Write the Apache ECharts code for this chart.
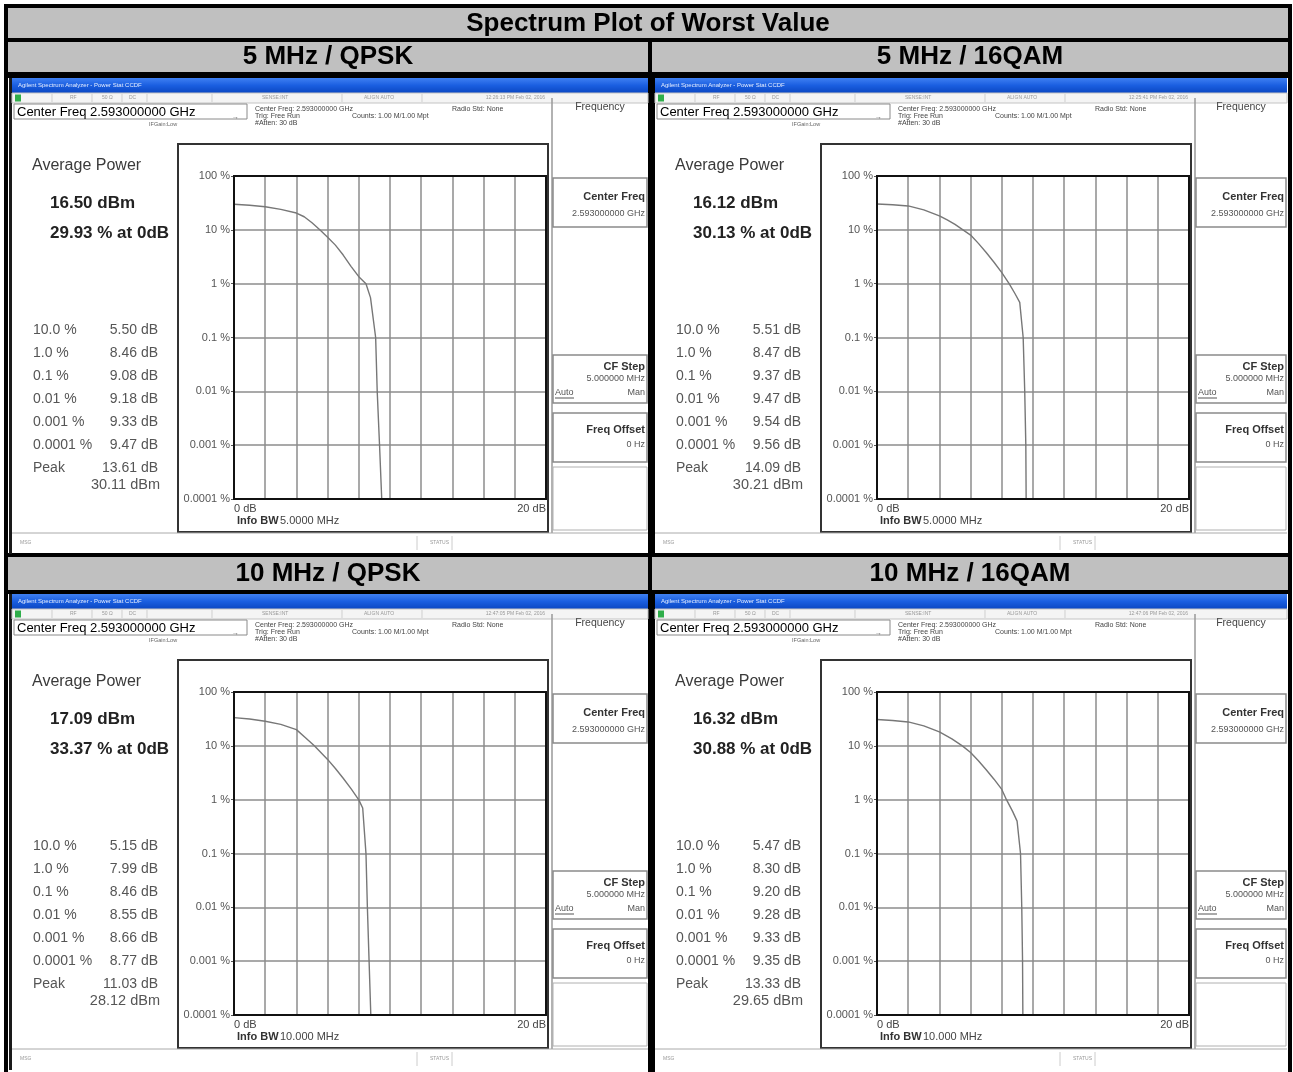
<!DOCTYPE html>
<html>
<head>
<meta charset="utf-8">
<script src="https://cdn.jsdelivr.net/npm/echarts@6/dist/echarts.min.js"></script>
<style>
  html, body { margin: 0; padding: 0; background: #fff; }
  #chart { width: 1293px; height: 1072px; }
</style>
</head>
<body>
<div id="chart"></div>
<script>
// CCDF plots of worst value - four analyser screenshots in a table
const tableTitle = 'Spectrum Plot of Worst Value';
const panelTitles = ['5 MHz / QPSK', '5 MHz / 16QAM', '10 MHz / QPSK', '10 MHz / 16QAM'];
const infoBw = ['5.0000 MHz', '5.0000 MHz', '10.000 MHz', '10.000 MHz'];
const avgPower = ['16.50 dBm', '16.12 dBm', '17.09 dBm', '16.32 dBm'];
const atZeroDb = ['29.93 % at 0dB', '30.13 % at 0dB', '33.37 % at 0dB', '30.88 % at 0dB'];
const peakDb = ['13.61 dB', '14.09 dB', '11.03 dB', '13.33 dB'];
const peakDbm = ['30.11 dBm', '30.21 dBm', '28.12 dBm', '29.65 dBm'];
const timeStamps = ['12:26:13 PM Feb 02, 2016', '12:25:41 PM Feb 02, 2016', '12:47:05 PM Feb 02, 2016', '12:47:06 PM Feb 02, 2016'];
const statLevels = ['10.0 %', '1.0 %', '0.1 %', '0.01 %', '0.001 %', '0.0001 %'];
const statsQpsk5 = ['5.50 dB', '8.46 dB', '9.08 dB', '9.18 dB', '9.33 dB', '9.47 dB'];
const stats16qam5 = ['5.51 dB', '8.47 dB', '9.37 dB', '9.47 dB', '9.54 dB', '9.56 dB'];
const statsQpsk10 = ['5.15 dB', '7.99 dB', '8.46 dB', '8.55 dB', '8.66 dB', '8.77 dB'];
const stats16qam10 = ['5.47 dB', '8.30 dB', '9.20 dB', '9.28 dB', '9.33 dB', '9.35 dB'];
const yTickLabels = ['0.0001 %', '0.001 %', '0.01 %', '0.1 %', '1 %', '10 %', '100 %'];

// CCDF traces: x = dB above average, y = probability (%)
const qpsk5Db =   [0, 1, 2, 3, 4, 4.5, 5, 5.5, 6, 6.5, 7, 7.5, 8, 8.46, 8.75, 9.08, 9.18, 9.33, 9.47, 20];
const qpsk5Pct =  [29.93, 28.7, 26.9, 24, 20.5, 17.5, 13.5, 10, 7.3, 5.2, 3.4, 2.1, 1.35, 1, 0.55, 0.1, 0.01, 0.001, 0.0001, 0.0001];
const qam5Db =    [0, 1, 2, 3, 4, 4.5, 5, 5.51, 6, 6.5, 7, 7.5, 8, 8.47, 8.85, 9.15, 9.37, 9.47, 9.54, 9.56, 20];
const qam5Pct =   [30.13, 29.2, 27.8, 23.5, 18.2, 15.3, 12.6, 10, 8, 5.6, 3.8, 2.5, 1.6, 1, 0.65, 0.45, 0.1, 0.01, 0.001, 0.0001, 0.0001];
const qpsk10Db =  [0, 1, 2, 3, 4, 4.6, 5.15, 6, 6.5, 7, 7.5, 7.99, 8.25, 8.46, 8.55, 8.66, 8.77, 20];
const qpsk10Pct = [33.37, 31.5, 28.6, 25, 20, 14, 10, 5.6, 3.8, 2.5, 1.6, 1, 0.7, 0.1, 0.01, 0.001, 0.0001, 0.0001];
const qam10Db =   [0, 1, 2, 3, 4, 4.8, 5.47, 6, 6.5, 7, 7.5, 8, 8.3, 8.7, 8.98, 9.2, 9.28, 9.33, 9.35, 20];
const qam10Pct =  [30.88, 29.5, 27.8, 23.5, 18.2, 13.5, 10, 7.5, 5.3, 3.6, 2.4, 1.55, 1, 0.6, 0.4, 0.1, 0.01, 0.001, 0.0001, 0.0001];

const traces = [[qpsk5Db, qpsk5Pct], [qam5Db, qam5Pct], [qpsk10Db, qpsk10Pct], [qam10Db, qam10Pct]];
const panelStats = [statsQpsk5, stats16qam5, statsQpsk10, stats16qam10];

// layout
const panelX = [12, 655, 12, 655];
const panelY = [78, 78, 594, 594];
const panelW = [636, 632, 636, 632];
const FONT = '"Liberation Sans", Arial, sans-serif';

const chart = echarts.init(document.getElementById('chart'));

function txt(x, y, text, size, color, opt) {
    opt = opt || {};
    return {
        type: 'text', z: 2,
        style: {
            x: x, y: y, text: text,
            fontSize: size, fontFamily: FONT,
            fontWeight: opt.bold ? 'bold' : 'normal',
            fill: color,
            textAlign: opt.align || 'left',
            textVerticalAlign: 'middle'
        }
    };
}
function box(x, y, w, h, fill, stroke, lw, z) {
    return {
        type: 'rect', z: z == null ? 1 : z,
        shape: { x: x, y: y, width: w, height: h },
        style: { fill: fill || 'none', stroke: stroke || 'none', lineWidth: lw || 0 }
    };
}
function seg(x1, y1, x2, y2, color, w) {
    return { type: 'line', z: 1, shape: { x1: x1, y1: y1, x2: x2, y2: y2 }, style: { stroke: color, lineWidth: w || 1 } };
}

const blueBar = {
    type: 'linear', x: 0, y: 0, x2: 0, y2: 1,
    colorStops: [{ offset: 0, color: '#3f80f2' }, { offset: 0.5, color: '#1a5ee0' }, { offset: 1, color: '#0b47c2' }]
};

function panelGroup(i) {
    const pw = panelW[i];
    const c = [];
    // dark window edge on the left-hand screenshots
    if (panelX[i] < 100) c.push(box(-3, 0, 3, 476, '#1a1a1a'));
    // window title bar + status row
    c.push({ type: 'rect', z: 1, shape: { x: 0, y: 0, width: pw, height: 15 }, style: { fill: blueBar } });
    c.push(txt(6, 7.5, 'Agilent Spectrum Analyzer - Power Stat CCDF', 6, '#e6eeff'));
    c.push(box(0, 15, pw, 10, '#f4f4f4', '#c4c4c4', 1));
    c.push(box(3, 16.5, 6, 7, '#2fae4a'));
    [40, 80, 110, 135, 200, 330, 410].forEach(x => c.push(seg(x, 16, x, 24, '#cfcfcf', 1)));
    c.push(txt(58, 20, 'RF', 5, '#999'));
    c.push(txt(90, 20, '50 Ω', 5, '#999'));
    c.push(txt(117, 20, 'DC', 5, '#999'));
    c.push(txt(250, 20, 'SENSE:INT', 5, '#999'));
    c.push(txt(352, 20, 'ALIGN AUTO', 5, '#999'));
    c.push(txt(533, 20, timeStamps[i], 5, '#999', { align: 'right' }));

    // center freq box and settings
    c.push(box(2, 26, 233, 15, '#fff', '#8a8a8a', 1));
    c.push(txt(5, 34, 'Center Freq 2.593000000 GHz', 13, '#000'));
    c.push(txt(243, 31, 'Center Freq: 2.593000000 GHz', 7, '#444'));
    c.push(txt(243, 38, 'Trig: Free Run', 7, '#444'));
    c.push(txt(243, 45, '#Atten: 30 dB', 7, '#444'));
    c.push(txt(340, 38, 'Counts: 1.00 M/1.00 Mpt', 7, '#444'));
    c.push(txt(440, 31, 'Radio Std: None', 7, '#444'));
    c.push(txt(137, 46, 'IFGain:Low', 5.5, '#666'));
    c.push(txt(220, 39, '→', 7, '#666'));

    // soft keys
    const kx = 540, kw = pw - 540;
    c.push(seg(kx, 20, kx, 455, '#999', 1.5));
    c.push(txt(kx + kw / 2, 29, 'Frequency', 10.5, '#444', { align: 'center' }));
    c.push(box(kx + 1, 100, kw - 2, 49, 'none', '#8a8a8a', 1.5));
    c.push(txt(pw - 3, 119, 'Center Freq', 11, '#333', { bold: true, align: 'right' }));
    c.push(txt(pw - 3, 136, '2.593000000 GHz', 9, '#555', { align: 'right' }));
    c.push(box(kx + 1, 277, kw - 2, 48, 'none', '#8a8a8a', 1.5));
    c.push(txt(pw - 3, 289, 'CF Step', 11, '#333', { bold: true, align: 'right' }));
    c.push(txt(pw - 3, 301, '5.000000 MHz', 9, '#555', { align: 'right' }));
    c.push(txt(kx + 3, 315, 'Auto', 9, '#555'));
    c.push(seg(kx + 3, 320, kx + 22, 320, '#555', 1));
    c.push(txt(pw - 3, 315, 'Man', 9, '#555', { align: 'right' }));
    c.push(box(kx + 1, 335, kw - 2, 49, 'none', '#8a8a8a', 1.5));
    c.push(txt(pw - 3, 352, 'Freq Offset', 11, '#333', { bold: true, align: 'right' }));
    c.push(txt(pw - 3, 367, '0 Hz', 9, '#555', { align: 'right' }));
    c.push(box(kx + 1, 389, kw - 2, 63, 'none', '#b0b0b0', 1));

    // measurement readout
    c.push(txt(20, 88, 'Average Power', 16, '#3a3a3a'));
    c.push(txt(38, 125, avgPower[i], 17, '#222', { bold: true }));
    c.push(txt(38, 155, atZeroDb[i], 17, '#222', { bold: true }));
    const rowY = [252, 275, 298, 321, 344, 367];
    statLevels.forEach((lv, k) => {
        c.push(txt(21, rowY[k], lv, 14, '#555'));
        c.push(txt(146, rowY[k], panelStats[i][k], 14, '#555', { align: 'right' }));
    });
    c.push(txt(21, 390, 'Peak', 14, '#555'));
    c.push(txt(146, 390, peakDb[i], 14, '#555', { align: 'right' }));
    c.push(txt(148, 407, peakDbm[i], 14.5, '#555', { align: 'right' }));

    // plot frame and info
    c.push(box(166, 66, 370, 388, 'none', '#333', 2));
    c.push(box(222, 98, 312, 323, 'none', '#111', 2, 10));
    c.push(txt(225, 443, 'Info BW', 11, '#333', { bold: true }));
    c.push(txt(268, 443, infoBw[i], 11, '#444'));

    // bottom status bar
    c.push(seg(0, 455, pw, 455, '#aaa', 1));
    c.push(txt(8, 465, 'MSG', 5, '#999'));
    c.push(seg(405, 458, 405, 472, '#ccc', 1));
    c.push(txt(418, 465, 'STATUS', 5, '#999'));
    c.push(seg(440, 458, 440, 472, '#ccc', 1));

    return { type: 'group', x: panelX[i], y: panelY[i], children: c };
}

// table frame
const tableEls = [
    box(4, 4, 1288, 1068, '#000', null, 0, 0),
    box(8, 8, 1280, 30, '#c0c0c0', null, 0, 0),
    box(8, 42, 640, 30, '#c0c0c0', null, 0, 0),
    box(652, 42, 636, 30, '#c0c0c0', null, 0, 0),
    box(8, 78, 640, 475, '#fff', null, 0, 0),
    box(655, 78, 633, 475, '#fff', null, 0, 0),
    box(8, 557, 640, 33, '#c0c0c0', null, 0, 0),
    box(652, 557, 636, 33, '#c0c0c0', null, 0, 0),
    box(8, 594, 640, 478, '#fff', null, 0, 0),
    box(655, 594, 633, 478, '#fff', null, 0, 0),
    txt(648, 24, tableTitle, 26, '#000', { bold: true, align: 'center' }),
    txt(328, 57, panelTitles[0], 26, '#000', { bold: true, align: 'center' }),
    txt(970, 57, panelTitles[1], 26, '#000', { bold: true, align: 'center' }),
    txt(328, 574, panelTitles[2], 26, '#000', { bold: true, align: 'center' }),
    txt(970, 574, panelTitles[3], 26, '#000', { bold: true, align: 'center' })
];

const idx = [0, 1, 2, 3];

chart.setOption({
    animation: false,
    backgroundColor: '#fff',
    graphic: { elements: tableEls.concat(idx.map(panelGroup)) },
    grid: idx.map(i => ({
        left: panelX[i] + 222,
        top: panelY[i] + 98,
        width: 312,
        height: 323,
        show: false,
        outerBoundsMode: 'none'
    })),
    xAxis: idx.map(i => ({
        gridIndex: i,
        type: 'value',
        min: 0,
        max: 20,
        interval: 2,
        z: 3,
        axisLine: { show: false },
        axisTick: { show: false },
        axisLabel: {
            show: true,
            margin: 4,
            fontSize: 11,
            fontFamily: FONT,
            color: '#444',
            alignMinLabel: 'left',
            alignMaxLabel: 'right',
            formatter: v => (v === 0 || v === 20) ? v + ' dB' : ''
        },
        splitLine: { show: true, lineStyle: { color: '#8c8c8c', width: 1.5 } }
    })),
    yAxis: idx.map(i => ({
        gridIndex: i,
        type: 'log',
        logBase: 10,
        min: 0.0001,
        max: 100,
        z: 3,
        axisLine: { show: false },
        axisTick: { show: true, length: 3, lineStyle: { color: '#555' } },
        axisLabel: {
            margin: 4,
            fontSize: 11,
            fontFamily: FONT,
            color: '#555',
            formatter: v => yTickLabels[Math.round(Math.log10(v)) + 4]
        },
        splitLine: { show: true, lineStyle: { color: '#8c8c8c', width: 1.5 } }
    })),
    series: idx.map(i => ({
        type: 'line',
        xAxisIndex: i,
        yAxisIndex: i,
        z: 4,
        data: traces[i][0].map((d, k) => [d, traces[i][1][k]]),
        showSymbol: false,
        symbol: 'none',
        lineStyle: { color: '#777', width: 1.4 }
    }))
});
</script>
</body>
</html>
